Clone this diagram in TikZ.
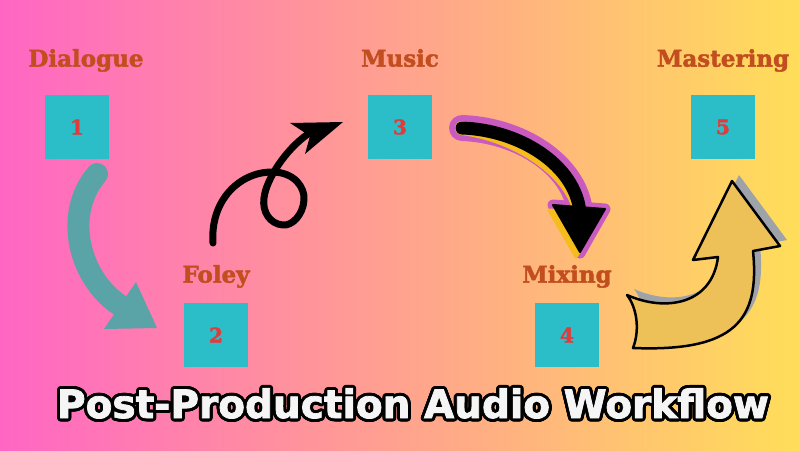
\documentclass[tikz,border=0pt]{standalone}
\usepackage{fontspec}
\newfontfamily\slabfont{DejaVuSerif-Bold.ttf}[FakeBold=2]
\newfontfamily\titlefont{DejaVuSans-Bold.ttf}[FakeBold=2]
\usetikzlibrary{positioning}
\definecolor{bgpink}{HTML}{FF66C4}
\definecolor{bgyellow}{HTML}{FFDE59}
\definecolor{boxteal}{HTML}{2BBDC8}
\definecolor{numred}{HTML}{E23B3B}
\definecolor{labelrust}{HTML}{C24E1F}
\definecolor{arrowteal}{HTML}{5AA3A6}
\definecolor{arrowmagenta}{HTML}{C95BC0}
\definecolor{arrowgold}{HTML}{F5BC1C}
\definecolor{arrowsand}{HTML}{EEC158}
\definecolor{shadowgray}{HTML}{9EA3AA}
\definecolor{titlewhite}{HTML}{F5F5F5}
\tikzset{
    stepbox/.style ={
        shape=rectangle,
        fill=boxteal,
        minimum size=64pt,
        inner sep=0pt,
        text=numred,
        font=\slabfont\fontsize{20}{20}\selectfont
    },
    steplabel/.style ={
        inner sep=0pt,
        text height=17pt,
        text depth=5pt,
        text=labelrust,
        font=\slabfont\fontsize{23}{23}\selectfont
    },
    titletext/.style ={
        inner sep=0pt,
        anchor=base,
        font=\titlefont\fontsize{39}{39}\selectfont
    },
    bigarrow/.style ={
        line join=round,
        line cap=round
    }
}

\begin{document}
\begin{tikzpicture}[x=1pt,y=-1pt]
        \fill[left color=bgpink, right color=bgyellow] (0,0) rectangle (800,450);
        \useasboundingbox (0,0) rectangle (800,450);

        \coordinate (tealstart) at (97,174);
        \coordinate (tealend) at (121,306);
        \coordinate (loopstart) at (213,243);
        \coordinate (loopend) at (308,134);
        \coordinate (swoopstart) at (462,128);
        \coordinate (swoopend) at (580,212);

        % dialogue -> foley
        \draw[arrowteal, line width=22pt, line cap=round] (tealstart) .. controls (62,215) and (80,280) .. (tealend);
        \fill[arrowteal, bigarrow] (104,329) -- (136,282) -- (157,328) -- cycle;

        % foley -> music
        \draw[black, line width=7pt, bigarrow] (loopstart)
            .. controls (210,200) and (240,172) .. (272,172)
            .. controls (295,172) and (305,188) .. (304,200)
            .. controls (303,215) and (292,226) .. (283,225)
            .. controls (270,224) and (262,212) .. (264,198)
            .. controls (266,180) and (285,150) .. (loopend);
        \fill[black, bigarrow] (290,123) -- (343,122) -- (305,154) -- (310,136) -- cycle;

        % music -> mixing
        \draw[arrowmagenta, line width=26pt, bigarrow] (swoopstart) .. controls (520,130) and (575,165) .. (swoopend);
        \filldraw[arrowmagenta, line width=11pt, bigarrow] (553,205) -- (605,209) -- (580,253) -- cycle;
        \begin{scope}[shift={(-4,5)}]
            \draw[arrowgold, line width=14pt, bigarrow] (swoopstart) .. controls (520,130) and (575,165) .. (swoopend);
            \filldraw[arrowgold, line width=3pt, bigarrow] (553,205) -- (605,209) -- (580,252) -- cycle;
        \end{scope}
        \draw[black, line width=13pt, bigarrow] (swoopstart) .. controls (520,130) and (575,165) .. (swoopend);
        \filldraw[black, line width=2pt, bigarrow] (553,205) -- (605,209) -- (580,252) -- cycle;

        % mixing -> mastering
        \fill[shadowgray, shift={(7,-6)}] (627,295) .. controls (665,312) and (712,305) .. (718,257)
            -- (693,260) -- (732,181) -- (780,246) -- (753,251)
            .. controls (760,320) and (735,352) .. (633,348)
            .. controls (640,330) and (637,308) .. (627,295) -- cycle;
        \filldraw[fill=arrowsand, draw=black, line width=2.5pt, bigarrow] (627,295) .. controls (665,312) and (712,305) .. (718,257)
            -- (693,260) -- (732,181) -- (780,246) -- (753,251)
            .. controls (760,320) and (735,352) .. (633,348)
            .. controls (640,330) and (637,308) .. (627,295) -- cycle;

        \node[stepbox] (b1) at (77,127) {1};
        \node[stepbox] (b2) at (216,335) {2};
        \node[stepbox] (b3) at (400,127) {3};
        \node[stepbox] (b4) at (567,335) {4};
        \node[stepbox] (b5) at (723,127) {5};
        \node[steplabel, above=23pt of b1, xshift=9pt] (dialogue) {Dialogue};
        \node[steplabel, above=15pt of b2] (foley) {Foley};
        \node[steplabel, above=23pt of b3] (music) {Music};
        \node[steplabel, above=15pt of b4] (mixing) {Mixing};
        \node[steplabel, above=23pt of b5] (mastering) {Mastering};

        \foreach \a in {0,15,...,345}
            \node[titletext, text=black] (outline\a) at ([shift={(\a:3pt)}]413,418) {Post-Production Audio Workflow};
        \node[titletext, text=titlewhite] (title) at (413,418) {Post-Production Audio Workflow};
    \end{tikzpicture}
\end{document}
